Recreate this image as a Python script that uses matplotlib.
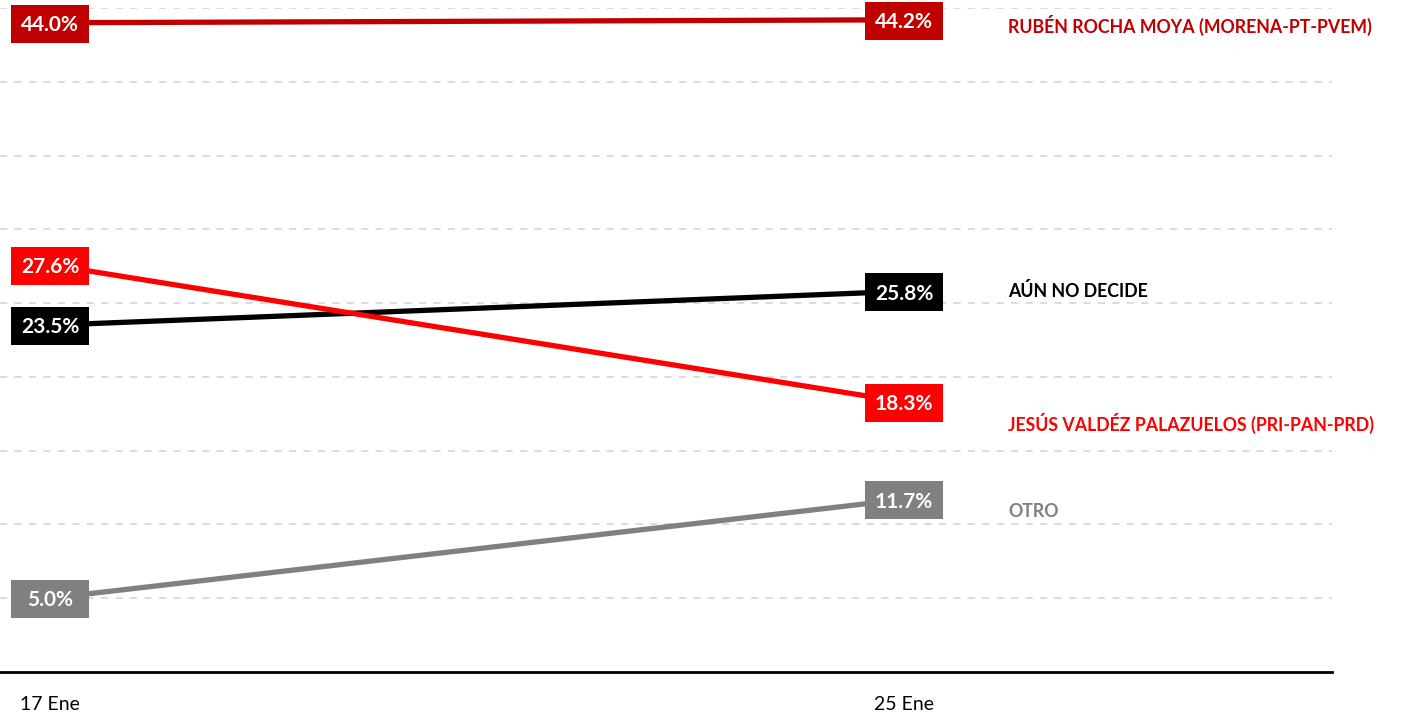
import matplotlib.pyplot as plt
import matplotlib.transforms as mtransforms
from matplotlib.patches import Rectangle

# data
fechas = ['17 Ene', '25 Ene']
candidatos = ['RUBÉN ROCHA MOYA (MORENA-PT-PVEM)', 'AÚN NO DECIDE',
              'JESÚS VALDÉZ PALAZUELOS (PRI-PAN-PRD)', 'OTRO']
rocha = [44.0, 44.2]
no_decide = [23.5, 25.8]
valdez = [27.6, 18.3]
otro = [5.0, 11.7]

series = [rocha, no_decide, valdez, otro]
colores = ['#C00000', '#000000', '#FF0000', '#808080']
label_y = [43.8, 25.8, 16.85, 10.85]

plt.rcParams['font.family'] = ['Lato', 'DejaVu Sans']

fig = plt.figure(figsize=(14.04, 7.16), dpi=100)
ax = fig.add_axes([0, 44 / 716, 1332 / 1404, (672 - 8) / 716])
ax.set_xlim(-50 / 854, 1282 / 854)
ax.set_ylim(0, 45)

x = [0, 1]
pts = mtransforms.Affine2D().scale(fig.dpi / 72)
for vals, col in zip(series, colores):
    ax.plot(x, vals, color=col, lw=3.8, solid_capstyle='butt', zorder=3)
    for xi, v in zip(x, vals):
        # fixed size label box, in points around the data point
        tr = pts + mtransforms.ScaledTranslation(xi, v, ax.transData)
        ax.add_patch(Rectangle((-28, -14.4), 56, 27.4, transform=tr,
                               fc=col, ec='none', zorder=4, clip_on=False))
        ax.text(xi, v - 0.15, '{:.1f}%'.format(v), ha='center', va='center',
                color='white', fontsize=15, fontweight='bold', zorder=5)

for name, col, ly in zip(candidatos, colores, label_y):
    ax.text(1.122, ly, name, color=col, fontsize=12.8, fontweight='bold',
            ha='left', va='center')

ax.set_yticks(range(5, 46, 5))
ax.yaxis.grid(True, color='#D9D9D9', ls=(0, (4, 4)), lw=1.3)
ax.set_axisbelow(True)
ax.tick_params(axis='y', left=False, labelleft=False)
ax.set_xticks(x)
ax.set_xticklabels(fechas, fontsize=14)
ax.tick_params(axis='x', length=0, pad=17)
for s in ['top', 'right', 'left']:
    ax.spines[s].set_visible(False)
ax.spines['bottom'].set_linewidth(2)

fig.savefig('out.png', dpi=100)
